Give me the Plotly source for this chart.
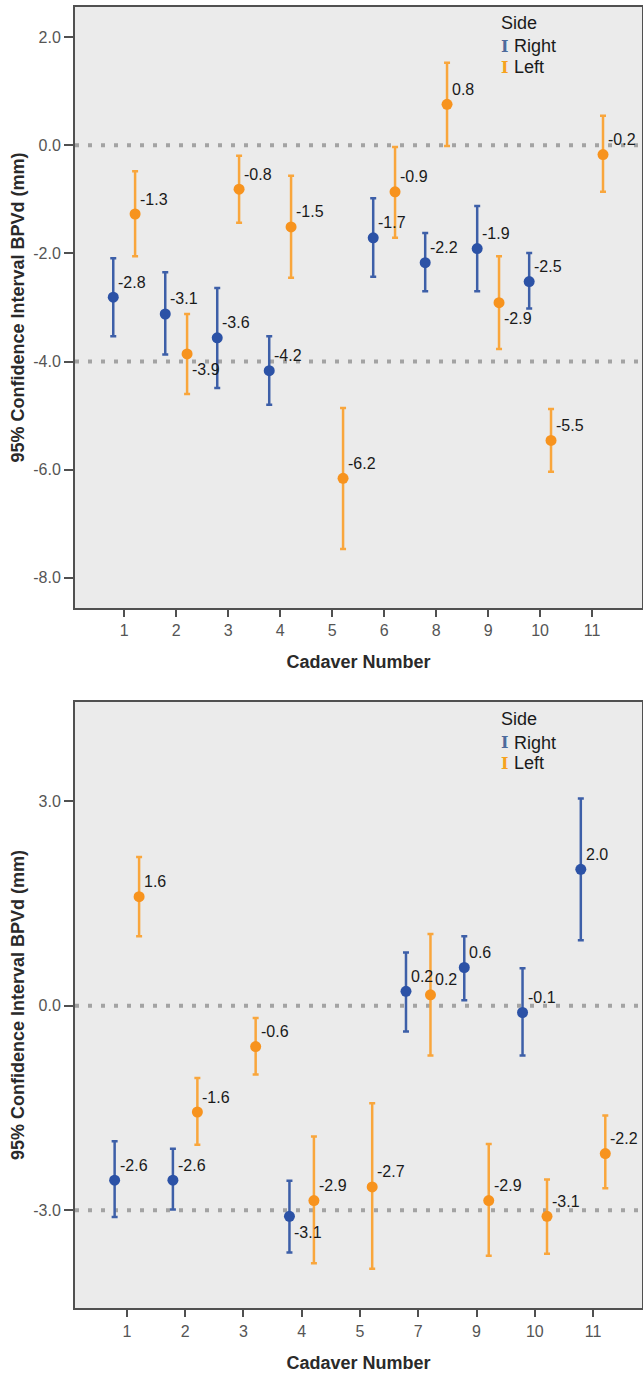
import plotly.graph_objects as go
from plotly.subplots import make_subplots

# ---------------- data ----------------
# Top panel
cats_top = ["1", "2", "3", "4", "5", "6", "8", "9", "10", "11"]
right_top_mean = [-2.81, -3.12, -3.56, -4.17, None, -1.71, -2.17, -1.91, -2.52, None]
right_top_lo = [-3.53, -3.87, -4.49, -4.80, None, -2.43, -2.70, -2.70, -3.02, None]
right_top_hi = [-2.09, -2.35, -2.64, -3.53, None, -0.98, -1.62, -1.12, -1.99, None]
left_top_mean = [-1.27, -3.86, -0.81, -1.51, -6.16, -0.86, 0.76, -2.91, -5.46, -0.17]
left_top_lo = [-2.05, -4.60, -1.43, -2.45, -7.47, -1.71, -0.01, -3.77, -6.04, -0.86]
left_top_hi = [-0.48, -3.12, -0.19, -0.56, -4.86, -0.03, 1.53, -2.05, -4.88, 0.55]
right_top_below = [False] * 10
left_top_below = [False, True, False, False, False, False, False, True, False, False]
ref_top = [0.0, -4.0]
yticks_top = [2.0, 0.0, -2.0, -4.0, -6.0, -8.0]

# Bottom panel
cats_bot = ["1", "2", "3", "4", "5", "7", "9", "10", "11"]
right_bot_mean = [-2.56, -2.56, None, -3.09, None, 0.21, 0.56, -0.10, 2.00]
right_bot_lo = [-3.10, -2.99, None, -3.62, None, -0.38, 0.08, -0.73, 0.96]
right_bot_hi = [-1.99, -2.10, None, -2.57, None, 0.78, 1.02, 0.55, 3.04]
left_bot_mean = [1.60, -1.56, -0.60, -2.86, -2.66, 0.16, -2.86, -3.09, -2.17]
left_bot_lo = [1.02, -2.04, -1.01, -3.78, -3.86, -0.73, -3.67, -3.64, -2.68]
left_bot_hi = [2.18, -1.06, -0.18, -1.92, -1.43, 1.05, -2.03, -2.55, -1.61]
right_bot_below = [False, False, False, True, False, False, False, False, False]
left_bot_below = [False] * 9
ref_bot = [0.0, -3.0]
yticks_bot = [3.0, 0.0, -3.0]

# ---------------- style ----------------
W, H = 643, 1373
BLUE_M = "#2c52a6"
BLUE_E = "#3d5fa8"
ORANGE_M = "#f7931e"
ORANGE_E = "#f9a63c"
BG = "#ebebeb"
AX = "#505050"
OFF = 0.21
FONT = "Liberation Sans, Arial, sans-serif"

fig = make_subplots(rows=2, cols=1)


def add_series(row, cats, mean, lo, hi, offset, mcol, ecol, name):
    xs, ys, ep, em = [], [], [], []
    for i, (m, l, h) in enumerate(zip(mean, lo, hi)):
        if m is None:
            continue
        xs.append(i + offset)
        ys.append(m)
        ep.append(h - m)
        em.append(m - l)
    fig.add_trace(
        go.Scatter(
            x=xs, y=ys, mode="markers", name=name, showlegend=False,
            marker=dict(size=11, color=mcol),
            error_y=dict(type="data", symmetric=False, array=ep, arrayminus=em,
                         color=ecol, thickness=2.5, width=3),
        ),
        row=row, col=1,
    )


def add_labels(row, mean, offset, below):
    xr = "x" if row == 1 else "x2"
    yr = "y" if row == 1 else "y2"
    for i, (m, b) in enumerate(zip(mean, below)):
        if m is None:
            continue
        fig.add_annotation(
            x=i + offset, y=m, xref=xr, yref=yr, text=f"{m:.1f}",
            showarrow=False, xanchor="left", yanchor="middle",
            xshift=3, yshift=-16 if b else 15,
            font=dict(size=16, color="#1a1a1a", family=FONT),
        )


add_series(1, cats_top, right_top_mean, right_top_lo, right_top_hi, -OFF, BLUE_M, BLUE_E, "Right")
add_series(1, cats_top, left_top_mean, left_top_lo, left_top_hi, OFF, ORANGE_M, ORANGE_E, "Left")
add_series(2, cats_bot, right_bot_mean, right_bot_lo, right_bot_hi, -OFF, BLUE_M, BLUE_E, "Right")
add_series(2, cats_bot, left_bot_mean, left_bot_lo, left_bot_hi, OFF, ORANGE_M, ORANGE_E, "Left")

add_labels(1, right_top_mean, -OFF, right_top_below)
add_labels(1, left_top_mean, OFF, left_top_below)
add_labels(2, right_bot_mean, -OFF, right_bot_below)
add_labels(2, left_bot_mean, OFF, left_bot_below)

# reference lines
for v in ref_top:
    fig.add_hline(y=v, line=dict(color="#a3a3a3", width=4, dash="4px,9px"), row=1, col=1, layer="below")
for v in ref_bot:
    fig.add_hline(y=v, line=dict(color="#a3a3a3", width=4, dash="4px,9px"), row=2, col=1, layer="below")

# axes
xdom = [75 / W, 642 / W]
ydom1 = [1 - 608 / H, 1 - 7 / H]
ydom2 = [1 - 1308.3 / H, 1 - 701.7 / H]

common_axis = dict(
    showline=True, mirror=True, linecolor=AX, linewidth=2,
    ticks="outside", tickcolor=AX, tickwidth=2,
    showgrid=False, zeroline=False,
    tickfont=dict(size=16, color="#555555", family=FONT),
)
title_font = dict(size=18, color="#2a2a2a", family=FONT, weight="bold")

fig.update_xaxes(domain=xdom, ticklen=7, **common_axis)
fig.update_yaxes(ticklen=9, **common_axis)

fig.update_xaxes(
    row=1, col=1, range=[-0.946, 9.96], tickvals=list(range(len(cats_top))), ticktext=cats_top,
    title=dict(text="Cadaver Number", font=title_font, standoff=17),
)
fig.update_xaxes(
    row=2, col=1, range=[-0.89, 8.84], tickvals=list(range(len(cats_bot))), ticktext=cats_bot,
    title=dict(text="Cadaver Number", font=title_font, standoff=18),
)
fig.update_yaxes(
    row=1, col=1, domain=ydom1, range=[-8.56, 2.56], tickvals=yticks_top,
    ticktext=[f"{v:.1f}" for v in yticks_top],
    title=dict(text="95% Confidence Interval BPVd (mm)", font=title_font, standoff=4),
)
fig.update_yaxes(
    row=2, col=1, domain=ydom2, range=[-4.44, 4.46], tickvals=yticks_bot,
    ticktext=[f"{v:.1f}" for v in yticks_bot],
    title=dict(text="95% Confidence Interval BPVd (mm)", font=title_font, standoff=4),
)

# legend (as annotations in each panel)
for xr, yr, top_px, bot_px, ypx in [
    ("x domain", "y domain", 7, 608, (23, 46, 67)),
    ("x2 domain", "y2 domain", 701.7, 1308.3, (719, 742.7, 763)),
]:
    hgt = bot_px - top_px
    fx = lambda px: (px - 75) / 567
    fy = lambda py: (bot_px - py) / hgt
    fig.add_annotation(xref=xr, yref=yr, x=fx(499), y=fy(ypx[0]), text="Side", showarrow=False,
                       xanchor="left", yanchor="middle", font=dict(size=18, color="#1a1a1a", family=FONT))
    for py, label, col in [(ypx[1], "Right", "#4d6a9c"), (ypx[2], "Left", "#f6a21e")]:
        fig.add_annotation(xref=xr, yref=yr, x=fx(504), y=fy(py), text="I", showarrow=False,
                           xanchor="center", yanchor="middle",
                           font=dict(size=16, color=col, family="DejaVu Serif", weight="bold"))
        fig.add_annotation(xref=xr, yref=yr, x=fx(512), y=fy(py), text=label, showarrow=False,
                           xanchor="left", yanchor="middle", font=dict(size=18, color="#1a1a1a", family=FONT))

fig.update_layout(
    width=W, height=H,
    margin=dict(l=0, r=0, t=0, b=0),
    paper_bgcolor="white",
    plot_bgcolor=BG,
    showlegend=False,
    font=dict(family=FONT),
)

fig.write_html("out.html", config={"displayModeBar": False},
               post_script="document.body.style.margin='0';")
